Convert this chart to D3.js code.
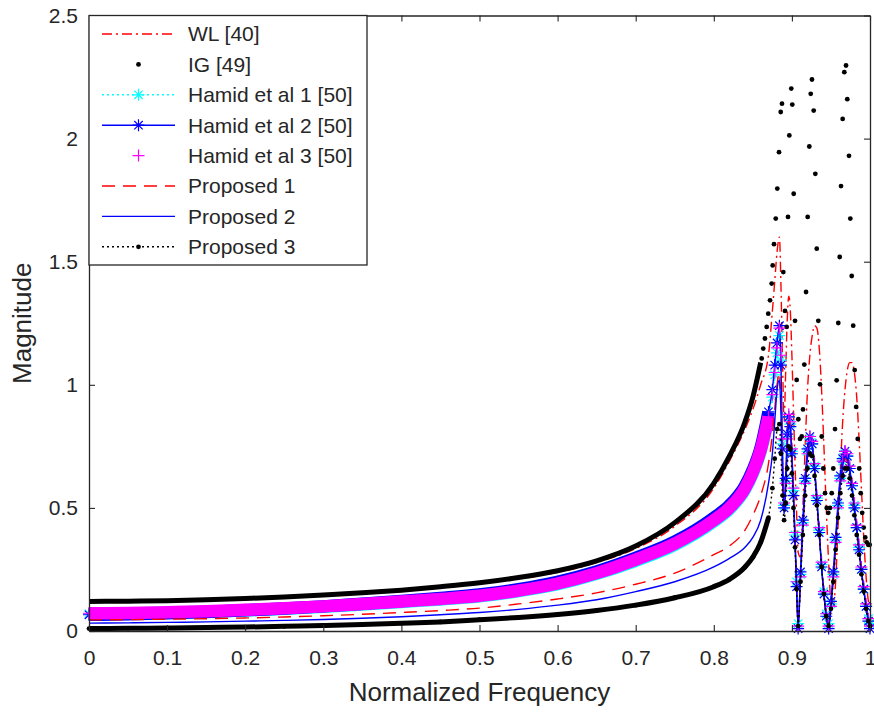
<!DOCTYPE html>
<html>
<head>
<meta charset="utf-8">
<script src="https://cdn.jsdelivr.net/npm/d3@7"></script>
<style>
  body { margin: 0; background: #fff; }
  svg text { font-family: "Liberation Sans", Arial, Helvetica, sans-serif; fill: #262626; }
</style>
</head>
<body>
<div id="chart"></div>
<script>
// frequency grids (normalized frequency)
const freqLow = [0, 0.05, 0.1, 0.15, 0.2, 0.25, 0.3, 0.35, 0.4, 0.45, 0.5, 0.55, 0.6, 0.65, 0.7, 0.75, 0.8, 0.82, 0.84, 0.85, 0.86, 0.87];
const freqLobe = [0.875, 0.878, 0.881, 0.884, 0.886, 0.888, 0.89, 0.892, 0.894, 0.896, 0.898,
  0.9, 0.902, 0.904, 0.906, 0.908, 0.911, 0.914, 0.917, 0.92, 0.923, 0.926, 0.929, 0.932, 0.935,
  0.938, 0.941, 0.944, 0.947, 0.95, 0.953, 0.956, 0.959, 0.962, 0.965, 0.968, 0.971, 0.974, 0.977,
  0.98, 0.983, 0.986, 0.989, 0.992, 0.995, 0.998, 1.0];

// WL [40]
const wlLow = [0.117, 0.118, 0.12, 0.124, 0.129, 0.135, 0.143, 0.152, 0.163, 0.176, 0.192, 0.212, 0.238, 0.278, 0.335, 0.425, 0.58, 0.69, 0.82, 0.9, 1.0, 1.12];
const wlLobe = [1.3, 1.42, 1.54, 1.6, 1.4, 1.1, 0.85, 1.05, 1.26, 1.36, 1.3, 1.12, 0.9, 0.68, 0.48, 0.32,
  0.3, 0.5, 0.75, 0.98, 1.12, 1.2, 1.24, 1.23, 1.15, 0.98, 0.75, 0.5, 0.28,
  0.12, 0.1, 0.2, 0.42, 0.65, 0.85, 0.98, 1.06, 1.09, 1.09, 1.05, 0.95, 0.78, 0.58, 0.38, 0.22, 0.12, 0.1];

// IG [49] (dots only)
const igLow = [0.12, 0.121, 0.123, 0.127, 0.132, 0.138, 0.146, 0.155, 0.166, 0.18, 0.196, 0.217, 0.245, 0.285, 0.345, 0.44, 0.6, 0.71, 0.85, 0.95, 1.09, 1.31];
const igPeakFreq = [0.8613, 0.8633, 0.8655, 0.8677, 0.8697, 0.872, 0.8741, 0.8754, 0.8771, 0.8793,
  0.8813, 0.8835, 0.8857, 0.8873, 0.889, 0.8912, 0.8933, 0.895, 0.8967, 0.8992,
  0.9005, 0.9023, 0.904, 0.9061, 0.9082, 0.9104, 0.9126, 0.9142, 0.9159, 0.9181,
  0.9202, 0.9223, 0.9241, 0.9257, 0.9279, 0.93, 0.9318, 0.9338, 0.936, 0.9382,
  0.9402, 0.9424, 0.9446, 0.9466, 0.9488, 0.951, 0.953, 0.9552, 0.9573, 0.9594,
  0.9612, 0.9629, 0.965, 0.9671, 0.9693, 0.9709, 0.9731, 0.9748, 0.9766, 0.9785,
  0.9804, 0.9823, 0.9843, 0.9862, 0.9881, 0.99, 0.9919, 0.9939, 0.9958, 0.9977, 0.9996];
const igPeak = [1.107, 1.147, 1.188, 1.235, 1.289, 1.343, 1.411, 1.485, 1.571, 1.675,
  1.797, 1.945, 2.108, 2.142, 1.458, 1.3, 1.235, 1.682, 2.013, 2.203,
  2.138, 1.776, 1.26, 1.02, 0.86, 0.78, 0.79, 0.9, 1.082, 1.377,
  1.682, 1.968, 2.182, 2.24, 2.114, 1.857, 1.553, 1.26, 1.002, 0.79,
  0.66, 0.56, 0.5, 0.48, 0.5, 0.56, 0.66, 0.82, 1.018, 1.251,
  1.519, 1.807, 2.08, 2.27, 2.297, 2.16, 1.93, 1.675, 1.442, 1.24,
  1.06, 0.91, 0.78, 0.66, 0.56, 0.48, 0.42, 0.38, 0.36, 0.35, 0.35];

// Hamid et al [50]
const hamid1Low = [0.07, 0.071, 0.074, 0.078, 0.084, 0.09, 0.098, 0.108, 0.118, 0.128, 0.141, 0.162, 0.19, 0.232, 0.285, 0.35, 0.445, 0.495, 0.575, 0.64, 0.73, 0.865];
const hamid1Lobe = [0.95, 1.04, 1.13, 1.2, 1.1, 0.76, 0.51, 0.61, 0.79, 0.87, 0.84, 0.73, 0.57, 0.39, 0.2, 0.03,
  0.23, 0.44, 0.61, 0.73, 0.78, 0.76, 0.67, 0.54, 0.41, 0.27, 0.16, 0.07, 0.03,
  0.11, 0.23, 0.37, 0.51, 0.62, 0.69, 0.72, 0.71, 0.66, 0.59, 0.51, 0.42, 0.34, 0.25, 0.17, 0.1, 0.05, 0.03];
const hamid2Low = [0.066, 0.068, 0.072, 0.077, 0.084, 0.091, 0.1, 0.111, 0.122, 0.134, 0.148, 0.17, 0.2, 0.242, 0.297, 0.363, 0.46, 0.51, 0.59, 0.655, 0.745, 0.89];
const hamid2Lobe = [0.98, 1.08, 1.17, 1.24, 1.08, 0.74, 0.5, 0.62, 0.8, 0.87, 0.83, 0.72, 0.55, 0.37, 0.18, 0.01,
  0.24, 0.45, 0.62, 0.74, 0.79, 0.76, 0.66, 0.53, 0.4, 0.26, 0.15, 0.06, 0.01,
  0.12, 0.24, 0.38, 0.52, 0.63, 0.7, 0.73, 0.71, 0.66, 0.59, 0.5, 0.42, 0.33, 0.25, 0.17, 0.1, 0.04, 0.01];
const hamid3Low = [0.072, 0.073, 0.076, 0.08, 0.086, 0.092, 0.1, 0.11, 0.12, 0.13, 0.143, 0.164, 0.193, 0.235, 0.29, 0.355, 0.45, 0.5, 0.58, 0.645, 0.735, 0.87];
const hamid3Lobe = [0.96, 1.05, 1.15, 1.23, 1.12, 0.78, 0.52, 0.6, 0.78, 0.88, 0.85, 0.74, 0.58, 0.4, 0.2, 0.02,
  0.22, 0.43, 0.6, 0.72, 0.79, 0.77, 0.68, 0.55, 0.42, 0.28, 0.16, 0.07, 0.02,
  0.1, 0.22, 0.36, 0.5, 0.61, 0.69, 0.73, 0.72, 0.67, 0.6, 0.52, 0.43, 0.35, 0.26, 0.18, 0.11, 0.05, 0.02];

// Proposed
const prop1Low = [0.045, 0.046, 0.048, 0.05, 0.053, 0.057, 0.062, 0.068, 0.075, 0.083, 0.093, 0.11, 0.13, 0.155, 0.19, 0.235, 0.31, 0.345, 0.41, 0.47, 0.55, 0.68];
const prop1Lobe = [0.8, 0.9, 1.0, 1.05, 0.92, 0.66, 0.5, 0.6, 0.76, 0.85, 0.83, 0.72, 0.56, 0.38, 0.19, 0.03,
  0.21, 0.41, 0.58, 0.7, 0.76, 0.75, 0.66, 0.53, 0.4, 0.27, 0.15, 0.06, 0.03,
  0.1, 0.21, 0.34, 0.48, 0.58, 0.66, 0.7, 0.69, 0.64, 0.57, 0.49, 0.41, 0.33, 0.25, 0.17, 0.1, 0.05, 0.03];
const prop2Low = [0.032, 0.033, 0.035, 0.037, 0.04, 0.043, 0.047, 0.052, 0.058, 0.066, 0.075, 0.088, 0.105, 0.127, 0.16, 0.2, 0.26, 0.295, 0.34, 0.38, 0.45, 0.6];
const prop2Lobe = [0.72, 0.85, 0.98, 1.02, 0.88, 0.62, 0.48, 0.58, 0.74, 0.84, 0.82, 0.71, 0.55, 0.37, 0.18, 0.02,
  0.22, 0.42, 0.59, 0.71, 0.77, 0.75, 0.66, 0.53, 0.4, 0.26, 0.15, 0.06, 0.02,
  0.1, 0.22, 0.35, 0.49, 0.6, 0.67, 0.71, 0.7, 0.65, 0.58, 0.5, 0.41, 0.33, 0.24, 0.17, 0.1, 0.04, 0.02];
const prop3Low = [0.01, 0.011, 0.012, 0.014, 0.016, 0.019, 0.022, 0.026, 0.031, 0.037, 0.046, 0.055, 0.067, 0.083, 0.105, 0.135, 0.18, 0.21, 0.26, 0.3, 0.36, 0.46];
const prop3Lobe = [0.58, 0.7, 0.82, 0.84, 0.72, 0.55, 0.45, 0.52, 0.66, 0.75, 0.74, 0.64, 0.5, 0.34, 0.17, 0.02,
  0.2, 0.39, 0.55, 0.66, 0.72, 0.71, 0.63, 0.51, 0.39, 0.26, 0.15, 0.06, 0.02,
  0.09, 0.2, 0.33, 0.46, 0.56, 0.63, 0.66, 0.66, 0.62, 0.55, 0.47, 0.39, 0.31, 0.23, 0.16, 0.09, 0.04, 0.02];

const xTicks = [0, 0.1, 0.2, 0.3, 0.4, 0.5, 0.6, 0.7, 0.8, 0.9, 1];
const yTicks = [0, 0.5, 1, 1.5, 2, 2.5];

// plot order = legend order
const series = [
  { name: "WL [40]", low: d3.zip(freqLow, wlLow), high: d3.zip(freqLobe, wlLobe), color: "#ff0000", line: "10,4,2,4", marker: null },
  { name: "IG [49]", low: d3.zip(freqLow, igLow).filter(d => d[0] <= 0.86), high: d3.zip(igPeakFreq, igPeak), color: "#000000", line: null, marker: "dot" },
  { name: "Hamid et al 1 [50]", low: d3.zip(freqLow, hamid1Low), high: d3.zip(freqLobe, hamid1Lobe), color: "#00ffff", line: "2,3", marker: "star" },
  { name: "Hamid et al 2 [50]", low: d3.zip(freqLow, hamid2Low), high: d3.zip(freqLobe, hamid2Lobe), color: "#0000ff", line: "solid", marker: "star" },
  { name: "Hamid et al 3 [50]", low: d3.zip(freqLow, hamid3Low), high: d3.zip(freqLobe, hamid3Lobe), color: "#ff00ff", line: null, marker: "plus" },
  { name: "Proposed 1", low: d3.zip(freqLow, prop1Low), high: d3.zip(freqLobe, prop1Lobe), color: "#ff0000", line: "13,8", marker: null },
  { name: "Proposed 2", low: d3.zip(freqLow, prop2Low), high: d3.zip(freqLobe, prop2Lobe), color: "#0000ff", line: "solid", marker: null },
  { name: "Proposed 3", low: d3.zip(freqLow, prop3Low), high: d3.zip(freqLobe, prop3Lobe), color: "#000000", line: "2,3", marker: "dot" }
];

const containerWidth = 874;
const containerHeight = 712;
const margin = { top: 15.5, right: 4, bottom: 81, left: 89 };
const width = containerWidth - margin.left - margin.right;
const height = containerHeight - margin.top - margin.bottom;

const svg = d3.select("#chart").append("svg")
  .attr("width", containerWidth)
  .attr("height", containerHeight);

const g = svg.append("g")
  .attr("transform", "translate(" + margin.left + "," + margin.top + ")");

const xScale = d3.scaleLinear().domain([0, 1]).range([0, width]);
const yScale = d3.scaleLinear().domain([0, 2.5]).range([height, 0]);

const line = d3.line()
  .x(d => xScale(d[0]))
  .y(d => yScale(d[1]))
  .curve(d3.curveMonotoneX);

// marker shapes
const markerSize = 6;
function markerPath(type) {
  const s = markerSize, k = s * 0.7;
  if (type === "plus") return `M${-s},0H${s}M0,${-s}V${s}`;
  return `M${-s},0H${s}M0,${-s}V${s}M${-k},${-k}L${k},${k}M${-k},${k}L${k},${-k}`;
}
function drawMarkers(sel, pts, s, cx, cy) {
  if (s.marker === "dot") {
    sel.selectAll(null).data(pts).enter().append("circle")
      .attr("cx", cx).attr("cy", cy).attr("r", 2.4).attr("fill", s.color);
  } else if (s.marker) {
    sel.selectAll(null).data(pts).enter().append("path")
      .attr("d", markerPath(s.marker))
      .attr("transform", d => "translate(" + cx(d) + "," + cy(d) + ")")
      .attr("fill", "none").attr("stroke", s.color).attr("stroke-width", 1.2);
  }
}

series.forEach(s => {
  const all = s.low.concat(s.high);
  const sg = g.append("g");
  // dense sampled markers merge into a solid trail at low frequency
  if (s.marker) {
    sg.append("path").datum(s.low)
      .attr("d", line).attr("fill", "none")
      .attr("stroke", s.color)
      .attr("stroke-width", s.marker === "dot" ? 5 : 12.5);
  }
  if (s.line) {
    sg.append("path").datum(all)
      .attr("d", line).attr("fill", "none")
      .attr("stroke", s.color)
      .attr("stroke-width", 1.4)
      .attr("stroke-dasharray", s.line === "solid" ? null : s.line);
  }
  drawMarkers(sg, s.marker === "dot" && !s.line ? s.high : all, s,
    d => xScale(d[0]), d => yScale(d[1]));
});

// axes box with inward ticks
const axisColor = "#262626";
const xAxis = d3.axisBottom(xScale).tickValues(xTicks).tickFormat(d => String(d))
  .tickSizeInner(-6).tickSizeOuter(0).tickPadding(19);
const yAxis = d3.axisLeft(yScale).tickValues(yTicks).tickFormat(d => String(d))
  .tickSizeInner(-6).tickSizeOuter(0).tickPadding(11);
const xAxisTop = d3.axisTop(xScale).tickValues(xTicks).tickFormat("").tickSizeInner(-6).tickSizeOuter(0);
const yAxisRight = d3.axisRight(yScale).tickValues(yTicks).tickFormat("").tickSizeInner(-6).tickSizeOuter(0);

[
  g.append("g").attr("transform", "translate(0," + height + ")").call(xAxis),
  g.append("g").call(yAxis),
  g.append("g").call(xAxisTop),
  g.append("g").attr("transform", "translate(" + width + ",0)").call(yAxisRight)
].forEach(a => {
  a.select(".domain").attr("stroke", axisColor).attr("stroke-width", 1.3);
  a.selectAll(".tick line").attr("stroke", axisColor).attr("stroke-width", 1.1);
  a.selectAll(".tick text").attr("font-size", 21).attr("fill", axisColor)
    .style("font-family", "'Liberation Sans', Arial, sans-serif");
});

// axis labels
g.append("text")
  .attr("x", width / 2).attr("y", height + 70)
  .attr("text-anchor", "middle").attr("font-size", 26)
  .text("Normalized Frequency");
g.append("text")
  .attr("transform", "translate(" + (31 - margin.left) + "," + (height / 2) + ") rotate(-90)")
  .attr("text-anchor", "middle").attr("font-size", 26)
  .text("Magnitude");

// legend
const legend = g.append("g");
legend.append("rect")
  .attr("x", 0).attr("y", 0).attr("width", 278).attr("height", 249.5)
  .attr("fill", "#fff").attr("stroke", axisColor).attr("stroke-width", 1.3);

const legendItems = legend.selectAll(".legend-item").data(series).enter()
  .append("g").attr("class", "legend-item")
  .attr("transform", (d, i) => "translate(0," + (18.5 + i * 30.4) + ")");

legendItems.each(function (s) {
  const item = d3.select(this);
  if (s.line) {
    item.append("line").attr("x1", 13).attr("x2", 86).attr("y1", 0).attr("y2", 0)
      .attr("stroke", s.color).attr("stroke-width", 1.4)
      .attr("stroke-dasharray", s.line === "solid" ? null : s.line);
  }
  drawMarkers(item, [0], s, () => 49.5, () => 0);
  item.append("text").attr("x", 99).attr("y", 0).attr("dy", "0.35em")
    .attr("font-size", 21).text(s.name);
});
</script>
</body>
</html>
